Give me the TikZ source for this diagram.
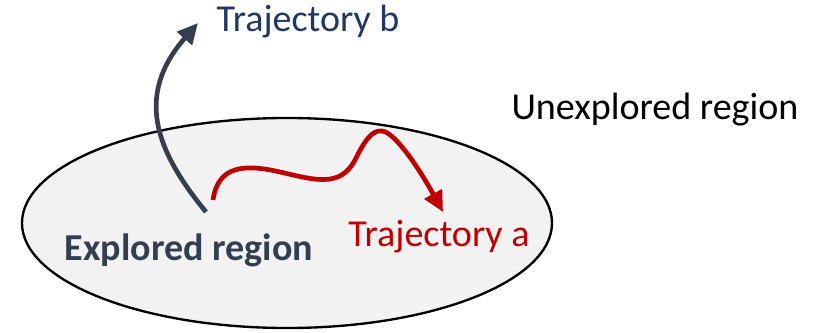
\documentclass[tikz,border=0pt]{standalone}
\usepackage{fontspec}
\setmainfont{Carlito}
\usetikzlibrary{arrows.meta,shapes.geometric}
\definecolor{trajred}{HTML}{C00000}
\definecolor{trajblue}{HTML}{333F50}
\definecolor{labelblue}{HTML}{203864}
\definecolor{regiongray}{HTML}{F2F2F2}
\tikzset{
  lbl/.style={font=\fontsize{32.5}{38}\selectfont, inner sep=0pt},
  traj/.style={line width=4pt, -{Triangle[length=0.62cm,width=0.58cm]}}
}
\begin{document}
\begin{tikzpicture}[x=0.03cm,y=-0.03cm]
  \useasboundingbox (0,0) rectangle (813,332);
  \node[draw, ellipse, fill=regiongray, line width=2pt, inner sep=0pt,
    minimum width=15.9cm, minimum height=6.3cm] (explored) at (287,223) {};
  \node[lbl, text=labelblue] (trajB) at (308,22) {Trajectory b};
  \node[lbl] (unexplored) at (655,110) {Unexplored region};
  \node[lbl, text=trajblue, font=\fontsize{32.5}{38}\selectfont\bfseries] (exploredlbl) at (189,250) {Explored region};
  \node[lbl, text=trajred] (trajA) at (439,237) {Trajectory a};
  \coordinate (bstart) at (206,212);
  \coordinate (bend) at (198,23);
  \coordinate (astart) at (213,200);
  \coordinate (aend) at (443,212);
  % trajectory b leaves the explored region
  \draw[traj, trajblue] (bstart) .. controls (155,150) and (135,95) .. (bend);
  % trajectory a stays inside
  \draw[traj, trajred] (astart) .. controls (218,165) and (245,164) .. (280,172)
    .. controls (315,180) and (340,188) .. (355,160)
    .. controls (365,140) and (372,130) .. (382,131)
    .. controls (395,132) and (420,170) .. (aend);
\end{tikzpicture}
\end{document}
